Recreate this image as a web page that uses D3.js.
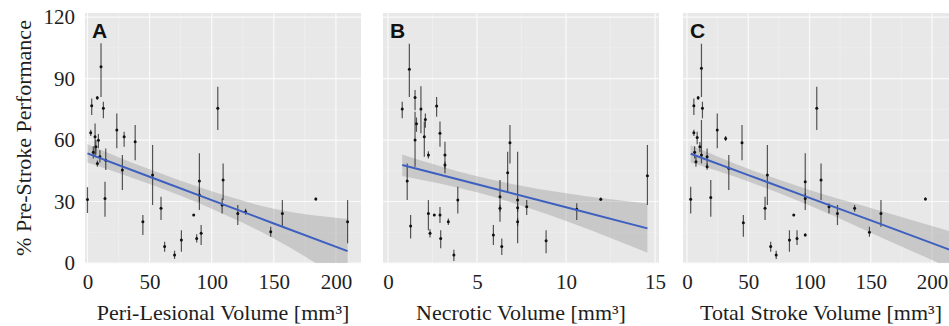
<!DOCTYPE html>
<html>
<head>
<meta charset="utf-8">
<script src="https://cdn.jsdelivr.net/npm/d3@7"></script>
<style>
  body { margin: 0; background: #fff; }
  svg text { font-family: "Liberation Serif", "Times New Roman", serif; fill: #1e1e1e; }
  .tag { font-family: "Liberation Sans", Arial, sans-serif !important; font-weight: bold; fill: #111 !important; }
</style>
</head>
<body>
<div id="chart"></div>
<script>
// rows: [x, y, errLow, errHigh]
const periLesional = [
  [0, 31, 24.4, 37], [3.4, 76.7, 72.2, 80.3], [2.6, 63.6, 62, 65], [7.9, 80.6, 79.5, 81.5],
  [10.9, 95.8, 81, 107.2], [12.8, 75.5, 70.6, 78.7], [6.1, 61.6, 51.9, 68.1], [6.8, 56.7, 53, 60],
  [8.8, 59.9, 56, 63], [4.7, 54, 51, 57], [8, 48.5, 47, 50], [10, 51.8, 49, 55],
  [14.7, 50.2, 45.4, 55.9], [14.1, 31.5, 22.6, 39.7], [23.6, 64.9, 56, 73], [29.5, 61.6, 56.7, 64],
  [28.1, 45.4, 35.6, 52.7], [38.4, 59.2, 50.2, 67.3], [52.4, 42.9, 28.3, 57.6], [44.6, 20.1, 13.7, 23.4],
  [59.2, 26.7, 21, 32.3], [62.1, 8, 5.5, 10.4], [70.1, 3.9, 2, 6], [75.6, 11.2, 5.5, 16],
  [85.5, 23.4, 23.4, 23.4], [87.9, 12, 10, 14], [91.5, 14.5, 8.8, 18.5], [90.1, 40, 25.9, 53.5],
  [90.1, 33.2, 30, 36], [104.9, 75.5, 64.9, 86], [109.2, 40.5, 30.7, 48.6], [108.4, 28.3, 24.2, 31.5],
  [121, 24.2, 18.5, 28.3], [127.3, 25, 23.5, 26.5], [147.5, 15.3, 12.8, 17.7], [156.9, 24.2, 17.7, 30.7],
  [183.8, 31.2, 30.5, 32], [209.4, 20.1, 9.6, 30.7]
];
const necrotic = [
  [1.2, 94.6, 81, 107], [0.8, 75.1, 70.6, 78.7], [1.52, 80.8, 74.6, 84.4], [1.85, 75.1, 63.3, 86.3],
  [1.52, 60, 47, 73.8], [1.08, 40, 30.7, 48.6], [1.27, 18, 12, 23.4], [2.04, 61.6, 51.9, 69],
  [2.27, 52.7, 51, 54.5], [2.73, 76.6, 71.4, 81], [2.92, 63.3, 56.7, 69], [3.2, 52.7, 43.8, 59.2],
  [3.2, 47.8, 46, 49.5], [2.27, 24.2, 16, 30.7], [2.36, 14.5, 12.5, 16.5], [2.92, 23.4, 19.5, 27.3],
  [2.96, 12, 7.2, 16], [3.39, 20.1, 18.5, 21.7], [2.6, 23.4, 23.4, 23.4], [3.92, 30.7, 24.2, 37.2],
  [3.7, 3.9, 1, 6.5], [5.92, 13.7, 8.8, 18.5], [6.39, 8, 3.9, 12], [6.29, 32.3, 20.1, 40.5],
  [6.29, 26.7, 25, 28.5], [6.72, 44, 34.8, 54.3], [6.85, 58.7, 48.6, 67.3], [7.28, 30.7, 9.6, 54.3],
  [7.28, 20.1, 18, 22], [7.28, 27, 25, 29], [7.79, 27.5, 23.4, 30.7], [8.88, 10.9, 4.7, 16],
  [10.6, 26.2, 21, 29.1], [11.95, 31.1, 30.3, 32], [14.57, 42.6, 28.3, 57.6],
  [1.6, 68, 64, 71], [2.1, 70, 66, 73]
];
const totalStroke = [
  [3, 31.1, 24.2, 37.2], [5.6, 76.7, 72.2, 80.3], [5.6, 63.6, 62, 65], [9.1, 80.6, 79.5, 81.5],
  [11.8, 95, 81, 107], [12.6, 75.5, 70.6, 78.7], [8.3, 61.3, 58, 64], [10.5, 56.7, 54, 59],
  [6.2, 54, 51, 57], [7.3, 49.4, 47, 52], [11.8, 52.7, 48.6, 69.8], [16.4, 51.9, 47, 55.9],
  [16.4, 47, 45.5, 48.5], [19.4, 32, 22.6, 40.5], [24.7, 64.9, 56, 73], [31.5, 60.8, 59.5, 62],
  [34.1, 46.2, 35.6, 52.7], [44.9, 58.7, 50.2, 67.3], [46, 19.7, 12.8, 23.4], [65.6, 42.9, 28.3, 57.6],
  [63.7, 26.7, 21, 32.3], [68.3, 8, 5.5, 10.4], [72.8, 3.9, 2, 6], [83.6, 11.2, 5.5, 16],
  [87.1, 23.4, 23.4, 23.4], [89.8, 12, 8.8, 16], [96.5, 39.7, 25.9, 53.5], [96.5, 31.5, 29, 34],
  [96.5, 13.7, 13, 14.5], [105.9, 75.5, 64.9, 86], [109.4, 40.5, 30.7, 48.6], [115.9, 27.5, 24.2, 29.1],
  [122.8, 24.2, 18.5, 28.3], [136.8, 26.7, 25, 28.3], [148.9, 15, 12.8, 17.7], [158.3, 24.2, 17.7, 30.7],
  [194.6, 31.2, 30.5, 32]
];

// regression fits: [x, fit, lower, upper]
const periFit = [[0, 53.5, 49, 58], [50, 42.1, 38.5, 45.7], [100, 30.7, 26.5, 35], [150, 19.3, 12, 26.5], [209.4, 5.8, -10, 21.5]];
const necroticFit = [[0.8, 47.8, 42.5, 53], [5, 38.4, 34.5, 42.3], [10, 27.2, 20.5, 34], [14.57, 16.9, 5, 29]];
const totalFit = [[3, 53.3, 49, 57.5], [50, 42.9, 39.8, 46], [100, 31.8, 28, 35.6], [150, 20.8, 14.8, 26.8], [222, 4.8, -4.5, 14.2]];

const yTicks = [0, 30, 60, 90, 120];

const W = 949, H = 326;
const padTop = 13, ph = 250, pw = 276;

const svg = d3.select('#chart').append('svg')
  .attr('width', W).attr('height', H);

const y = d3.scaleLinear().domain([0, 122]).range([ph, 0]);

const panels = [
  { data: periLesional, fit: periFit, left: 85, domain: [-2, 220.2], ticks: [0, 50, 100, 150, 200],
    minor: [25, 75, 125, 175], title: 'Peri-Lesional Volume [mm³]', tag: 'A', yAxis: true },
  { data: necrotic, fit: necroticFit, left: 383, domain: [-0.28, 15.22], ticks: [0, 5, 10, 15],
    minor: [2.5, 7.5, 12.5], title: 'Necrotic Volume [mm³]', tag: 'B' },
  { data: totalStroke, fit: totalFit, left: 683, domain: [-3.27, 222], ticks: [0, 50, 100, 150, 200],
    minor: [25, 75, 125, 175], title: 'Total Stroke Volume [mm³]', tag: 'C' }
];

panels.forEach((p, i) => {
  const x = d3.scaleLinear().domain(p.domain).range([0, pw]);
  const g = svg.append('g').attr('transform', `translate(${p.left},${padTop})`);

  g.append('clipPath').attr('id', 'clip' + i)
    .append('rect').attr('width', pw).attr('height', ph);

  g.append('rect').attr('width', pw).attr('height', ph).attr('fill', '#e8e8e8');

  // grid
  g.selectAll('.vminor').data(p.minor).join('line')
    .attr('x1', d => x(d)).attr('x2', d => x(d)).attr('y1', 0).attr('y2', ph)
    .attr('stroke', '#f1f1f1').attr('stroke-width', 0.6);
  g.selectAll('.hminor').data([15, 45, 75, 105]).join('line')
    .attr('x1', 0).attr('x2', pw).attr('y1', d => y(d)).attr('y2', d => y(d))
    .attr('stroke', '#f1f1f1').attr('stroke-width', 0.6);
  g.selectAll('.vmajor').data(p.ticks).join('line')
    .attr('x1', d => x(d)).attr('x2', d => x(d)).attr('y1', 0).attr('y2', ph)
    .attr('stroke', '#fafafa').attr('stroke-width', 1.2);
  g.selectAll('.hmajor').data(yTicks).join('line')
    .attr('x1', 0).attr('x2', pw).attr('y1', d => y(d)).attr('y2', d => y(d))
    .attr('stroke', '#fafafa').attr('stroke-width', 1.2);

  const plot = g.append('g').attr('clip-path', `url(#clip${i})`);

  // confidence band + fit line
  const area = d3.area().curve(d3.curveMonotoneX)
    .x(d => x(d[0])).y0(d => y(d[2])).y1(d => y(d[3]));
  plot.append('path').datum(p.fit).attr('d', area)
    .attr('fill', '#999').attr('fill-opacity', 0.4);

  // error bars and points
  plot.selectAll('.bar').data(p.data).join('line')
    .attr('x1', d => x(d[0])).attr('x2', d => x(d[0]))
    .attr('y1', d => y(d[2])).attr('y2', d => y(d[3]))
    .attr('stroke', '#222').attr('stroke-width', 1.2).attr('stroke-opacity', 0.75);
  plot.selectAll('.pt').data(p.data).join('circle')
    .attr('cx', d => x(d[0])).attr('cy', d => y(d[1])).attr('r', 1.5)
    .attr('fill', '#111');

  const line = d3.line().x(d => x(d[0])).y(d => y(d[1]));
  plot.append('path').datum(p.fit).attr('d', line)
    .attr('fill', 'none').attr('stroke', '#3d5fbf').attr('stroke-width', 2);

  // x axis
  const xAxis = d3.axisBottom(x).tickValues(p.ticks).tickSize(0).tickFormat(d3.format('d'));
  g.append('g').attr('transform', `translate(0,${ph})`).call(xAxis)
    .call(a => a.select('.domain').remove())
    .call(a => a.selectAll('text').attr('y', 11).attr('font-size', 21)
      .attr('font-family', '"Liberation Serif", serif').attr('fill', '#1e1e1e'));

  g.append('text').attr('x', pw / 2).attr('y', ph + 57)
    .attr('text-anchor', 'middle').attr('font-size', 22).text(p.title);

  g.append('text').attr('class', 'tag').attr('x', 7).attr('y', 25)
    .attr('font-size', 21).text(p.tag);

  if (p.yAxis) {
    const yAxis = d3.axisLeft(y).tickValues(yTicks).tickSize(0).tickPadding(10);
    g.append('g').call(yAxis)
      .call(a => a.select('.domain').remove())
      .call(a => a.selectAll('text').attr('font-size', 21)
        .attr('font-family', '"Liberation Serif", serif').attr('fill', '#1e1e1e'));
    svg.append('text')
      .attr('transform', `translate(31,${padTop + ph / 2}) rotate(-90)`)
      .attr('text-anchor', 'middle').attr('font-size', 22)
      .text('% Pre-Stroke Performance');
  }
});
</script>
</body>
</html>
